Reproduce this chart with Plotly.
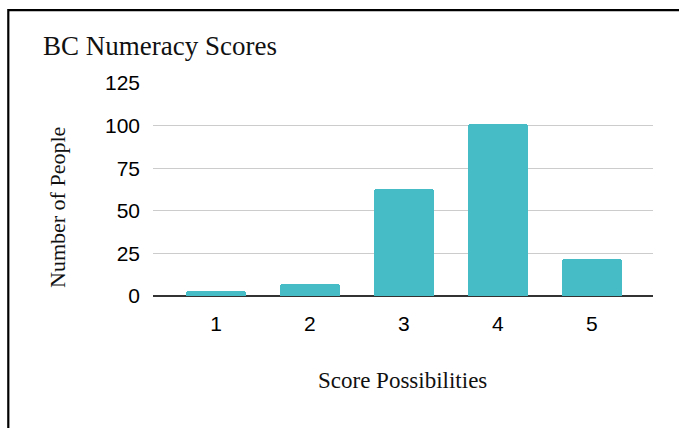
import plotly.graph_objects as go

# Score distribution
scores = [1, 2, 3, 4, 5]
people = [3, 7, 63, 101, 22]
y_ticks = [0, 25, 50, 75, 100, 125]

W, H = 679, 428
L, R, T, B = 153, 26, 83, 132          # plot-area margins in px
PW, PH = W - L - R, H - T - B


def px_x(x):
    return (x - L) / PW


def px_y(y):
    return (H - B - y) / PH


fig = go.Figure(
    go.Bar(
        x=scores,
        y=people,
        width=0.64,
        marker=dict(color="#46BDC6", line=dict(width=0), cornerradius=3),
        hoverinfo="x+y",
    )
)

serif = "Liberation Serif, Times New Roman, serif"
sans = "Liberation Sans, Arial, sans-serif"

fig.update_layout(
    width=W,
    height=H,
    margin=dict(l=L, r=R, t=T, b=B, pad=0),
    paper_bgcolor="white",
    plot_bgcolor="white",
    showlegend=False,
    bargap=0,
    xaxis=dict(
        range=[0.33, 5.65],
        tickvals=scores,
        ticktext=[str(s) for s in scores],
        showgrid=False,
        zeroline=False,
        showline=False,
        ticks="",
        ticklabelstandoff=13,
        tickfont=dict(family=sans, size=21, color="#000"),
        fixedrange=True,
    ),
    yaxis=dict(
        range=[0, 125],
        tickvals=y_ticks,
        showgrid=True,
        gridcolor="#cccccc",
        gridwidth=1,
        zeroline=True,
        zerolinecolor="#333333",
        zerolinewidth=1.5,
        showline=False,
        ticks="",
        ticklabelstandoff=12,
        tickfont=dict(family=sans, size=21, color="#000"),
        fixedrange=True,
    ),
    title=dict(
        text="BC Numeracy Scores",
        font=dict(family=serif, size=27, color="#111"),
        xref="container",
        yref="container",
        x=43 / W,
        xanchor="left",
        y=1 - 46 / H,
        yanchor="middle",
    ),
)

# axis titles
fig.add_annotation(
    text="Score Possibilities",
    xref="paper", yref="paper",
    x=px_x(402), y=px_y(380),
    xanchor="center", yanchor="middle",
    showarrow=False,
    font=dict(family=serif, size=23, color="#111"),
)
fig.add_annotation(
    text="Number of People",
    xref="paper", yref="paper",
    x=px_x(57), y=px_y(208),
    xanchor="center", yanchor="middle",
    textangle=-90,
    showarrow=False,
    font=dict(family=serif, size=22, color="#111"),
)

# frame: left and top edges of the surrounding box
fig.add_shape(
    type="rect",
    xref="paper", yref="paper",
    x0=px_x(8.3), x1=px_x(700),
    y0=px_y(450), y1=px_y(10.2),
    line=dict(color="black", width=2.2),
    fillcolor="rgba(0,0,0,0)",
    layer="above",
)

fig.write_html("out.html")
